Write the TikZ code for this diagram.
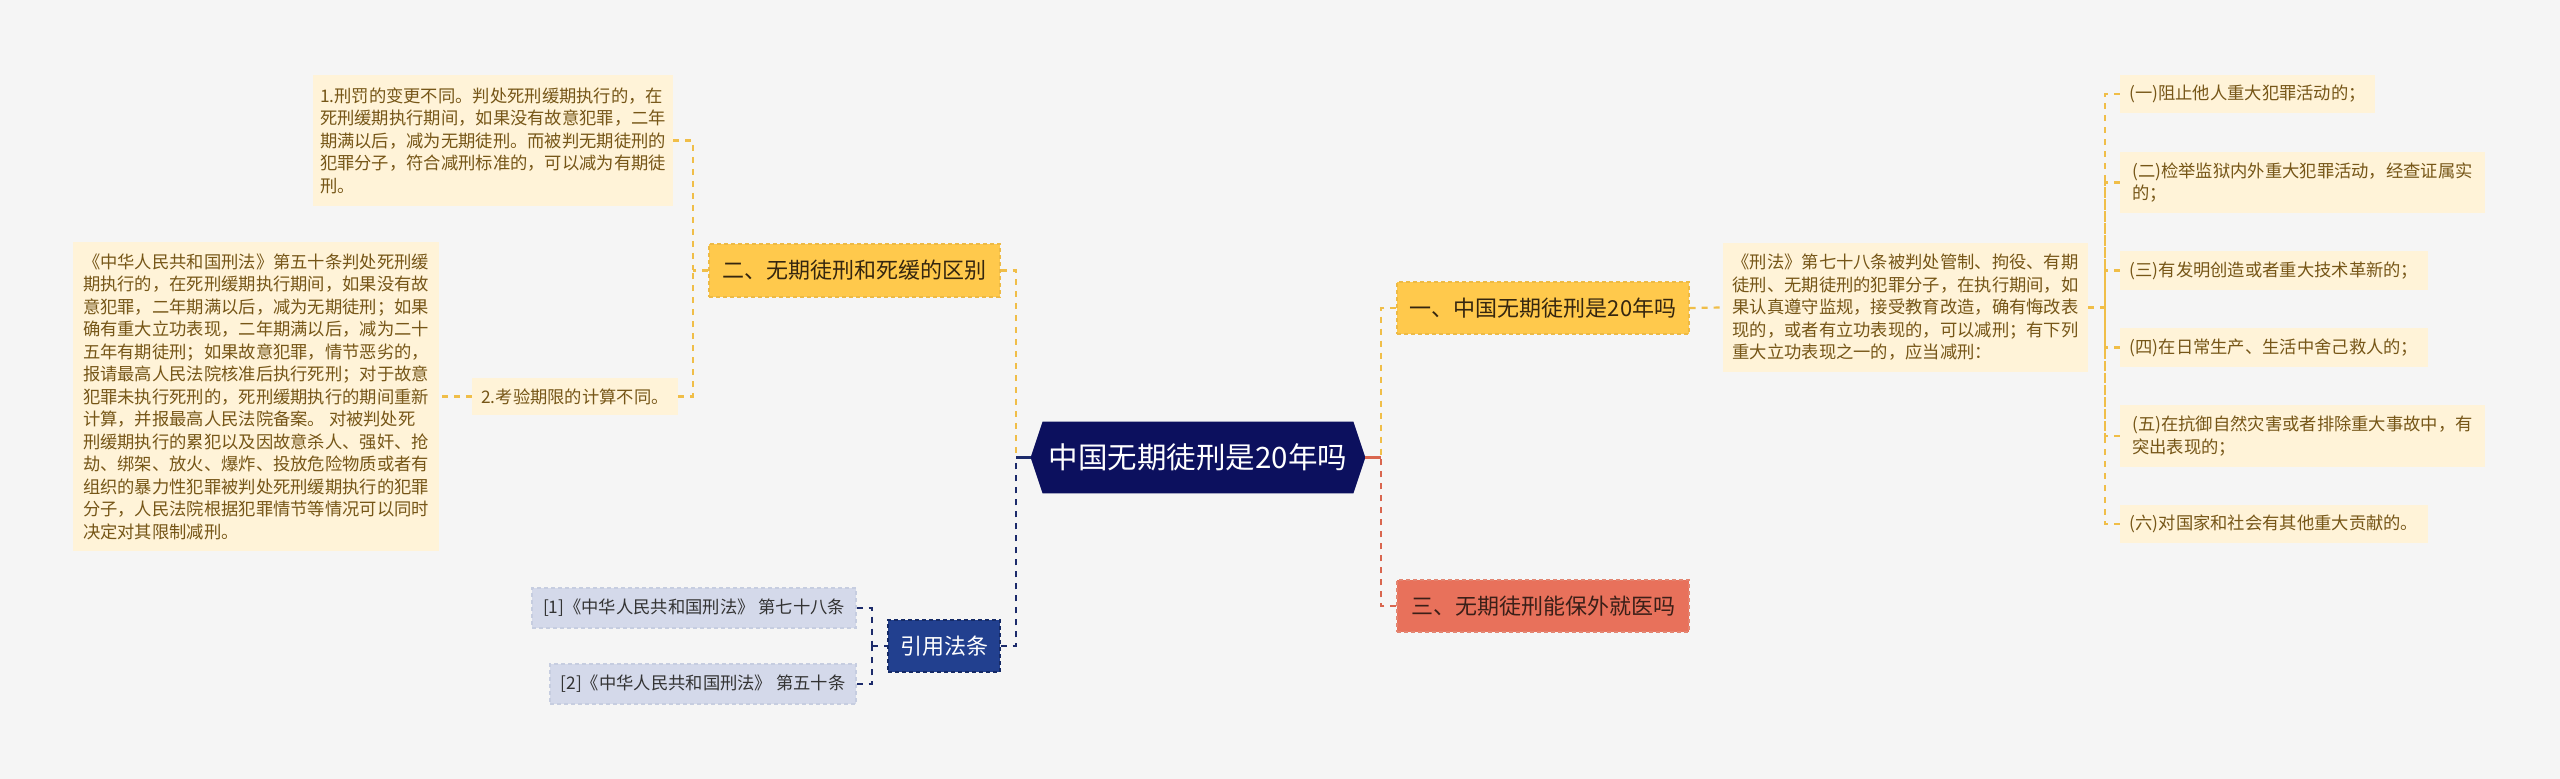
\documentclass[tikz,border=0pt]{standalone}
\usepackage{fontspec}
\setmainfont{Noto Sans CJK SC}
\usetikzlibrary{backgrounds,calc}
\definecolor{bgc}{HTML}{F5F5F5}
\definecolor{navyc}{HTML}{0C105E}
\definecolor{reffill}{HTML}{22408F}
\definecolor{refborder}{HTML}{152A66}
\definecolor{ylwfill}{HTML}{FFC94C}
\definecolor{ylwborder}{HTML}{EDBA45}
\definecolor{salfill}{HTML}{E8715B}
\definecolor{salborder}{HTML}{E38470}
\definecolor{cream}{HTML}{FFF3D8}
\definecolor{browntext}{HTML}{765617}
\definecolor{lvtext}{HTML}{35260F}
\definecolor{saltext}{HTML}{3B1F18}
\definecolor{rfill}{HTML}{D4D9EA}
\definecolor{rborder}{HTML}{C6CDE0}
\definecolor{ylwline}{HTML}{F0BE48}
\definecolor{navyline}{HTML}{1C2B6B}
\definecolor{salline}{HTML}{D9664F}
\tikzset{
  box/.style 2 args={minimum width=#1*0.5pt, minimum height=#2*0.5pt, inner sep=0pt, align=left},
  lvone/.style={fill=ylwfill, draw=ylwborder, dash pattern=on 2pt off 1.5pt, line width=0.6pt, text=lvtext, font=\fontsize{11}{13}\selectfont},
  lvsal/.style={fill=salfill, draw=salborder, dash pattern=on 2pt off 1.5pt, line width=0.6pt, text=saltext, font=\fontsize{11}{13}\selectfont},
  lvref/.style={fill=reffill, draw=refborder, dash pattern=on 2pt off 1.5pt, line width=0.6pt, text=white, font=\fontsize{11}{13}\selectfont},
  leaf/.style={fill=cream, text=browntext, font=\fontsize{8.65}{11.25}\selectfont},
  refleaf/.style={fill=rfill, draw=rborder, dash pattern=on 2pt off 1.5pt, line width=0.6pt, text=black!80, font=\fontsize{8.65}{11.25}\selectfont},
  ylink/.style={draw=ylwline, line width=1.1pt, dash pattern=on 3pt off 3pt},
  nlink/.style={draw=navyline, line width=1.1pt, dash pattern=on 3pt off 3pt},
  slink/.style={draw=salline, line width=1.1pt, dash pattern=on 3pt off 3pt},
}
\begin{document}
\begin{tikzpicture}[x=0.5pt,y=-0.5pt]
\begin{scope}[on background layer]
\fill[bgc] (0,0) rectangle (2560,779);
\end{scope}
\useasboundingbox (0,0) rectangle (2560,779);

% centre
\node[box={334}{71}, text=white, font=\fontsize{14.75}{17}\selectfont] (c) at (1198,457.5) {中国无期徒刑是20年吗};
\begin{scope}[on background layer]
\fill[navyc] (c.west) -- ([xshift=6pt]c.north west) -- ([xshift=-6pt]c.north east) -- (c.east) -- ([xshift=-6pt]c.south east) -- ([xshift=6pt]c.south west) -- cycle;
\end{scope}

% level one
\node[box={291}{53}, lvone] (b2) at (854.5,270.5) {二、无期徒刑和死缓的区别};
\node[box={112}{52}, lvref] (ref) at (944,646) {引用法条};
\node[box={292}{52}, lvone] (b1) at (1543,308) {一、中国无期徒刑是20年吗};
\node[box={292}{52}, lvsal] (b3) at (1543,606) {三、无期徒刑能保外就医吗};

% left leaves
\node[box={360}{131}, leaf] (l1) at (493,140.5) {1.刑罚的变更不同。判处死刑缓期执行的，在\\死刑缓期执行期间，如果没有故意犯罪，二年\\期满以后，减为无期徒刑。而被判无期徒刑的\\犯罪分子，符合减刑标准的，可以减为有期徒\\刑。};
\node[box={206}{37}, leaf] (l2) at (575,396.5) {2.考验期限的计算不同。};
\node[box={366}{309}, leaf] (l2d) at (256,396.5) {《中华人民共和国刑法》第五十条判处死刑缓\\期执行的，在死刑缓期执行期间，如果没有故\\意犯罪，二年期满以后，减为无期徒刑；如果\\确有重大立功表现，二年期满以后，减为二十\\五年有期徒刑；如果故意犯罪，情节恶劣的，\\报请最高人民法院核准后执行死刑；对于故意\\犯罪未执行死刑的，死刑缓期执行的期间重新\\计算，并报最高人民法院备案。 对被判处死\\刑缓期执行的累犯以及因故意杀人、强奸、抢\\劫、绑架、放火、爆炸、投放危险物质或者有\\组织的暴力性犯罪被判处死刑缓期执行的犯罪\\分子，人民法院根据犯罪情节等情况可以同时\\决定对其限制减刑。};

% references
\node[box={324}{40}, refleaf] (r1) at (694,608) {[1]《中华人民共和国刑法》 第七十八条};
\node[box={306}{40}, refleaf] (r2) at (703,684) {[2]《中华人民共和国刑法》 第五十条};

% right leaves
\node[box={365}{129}, leaf] (t1) at (1905.5,307.5) {《刑法》第七十八条被判处管制、拘役、有期\\徒刑、无期徒刑的犯罪分子，在执行期间，如\\果认真遵守监规，接受教育改造，确有悔改表\\现的，或者有立功表现的，可以减刑；有下列\\重大立功表现之一的，应当减刑：};
\node[box={255}{38}, leaf] (i1) at (2247.5,94) {(一)阻止他人重大犯罪活动的；};
\node[box={365}{61}, leaf] (i2) at (2302.5,182.5) {(二)检举监狱内外重大犯罪活动，经查证属实\\的；};
\node[box={308}{39}, leaf] (i3) at (2274,270.5) {(三)有发明创造或者重大技术革新的；};
\node[box={308}{39}, leaf] (i4) at (2274,347.5) {(四)在日常生产、生活中舍己救人的；};
\node[box={365}{62}, leaf] (i5) at (2302.5,436) {(五)在抗御自然灾害或者排除重大事故中，有\\突出表现的；};
\node[box={308}{38}, leaf] (i6) at (2274,524) {(六)对国家和社会有其他重大贡献的。};

% junctions
\coordinate (jL) at (1016,457.5);
\coordinate (jR) at (1381,457.5);
\coordinate (jL2) at (693,270.5);
\coordinate (jRef) at (872,646);
\coordinate (jT) at (2105,307.5);

% connectors
\begin{scope}[on background layer]
\draw[ylink] (b2.east) -| (jL);
\draw[nlink] (ref.east) -| (jL);
\draw[draw=navyline, line width=1.1pt] (c.west) -- (jL);
\draw[ylink] (b1.west) -| (jR);
\draw[slink] (b3.west) -| (jR);
\draw[draw=salline, line width=1.1pt] (c.east) -- (jR);
\draw[ylink] (b2.west) -- (jL2);
\draw[ylink] (l1.east) -| (jL2);
\draw[ylink] (l2.east) -| (jL2);
\draw[ylink] (l2.west) -- (l2d.east);
\draw[nlink] (r1.east) -| (jRef);
\draw[nlink] (r2.east) -| (jRef);
\draw[nlink] (jRef) -- (ref.west);
\draw[ylink] (b1.east) -- (t1.west);
\draw[ylink] (t1.east) -- (jT);
\foreach \n in {i1,i2,i3,i4,i5,i6} {\draw[ylink] (\n.west) -| (jT);}
\end{scope}
\end{tikzpicture}
\end{document}
